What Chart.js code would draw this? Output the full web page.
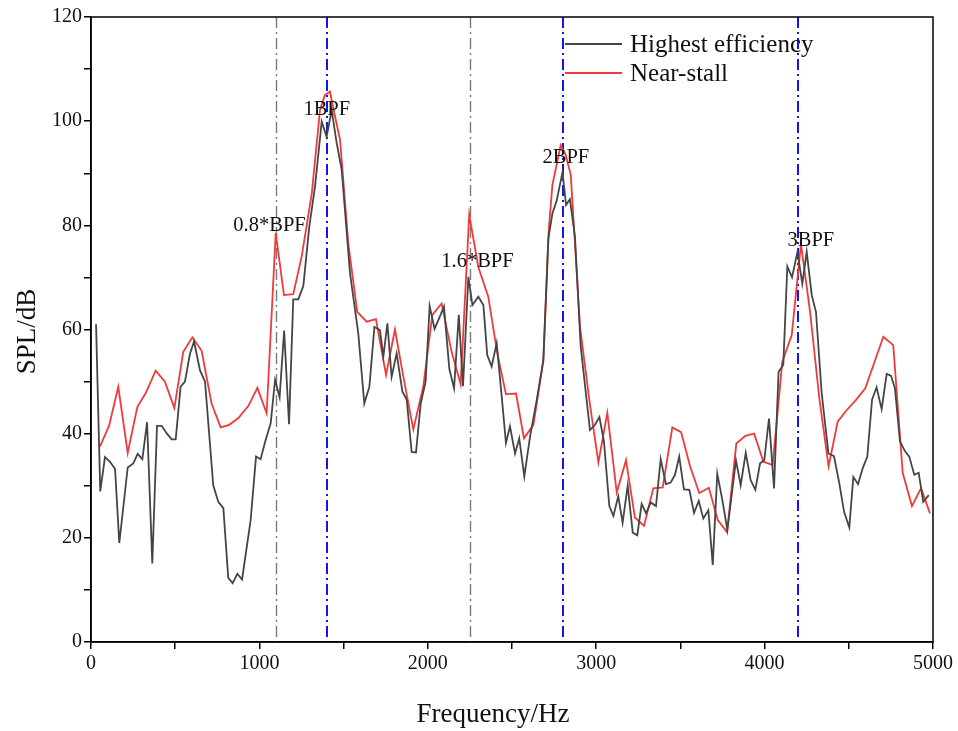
<!DOCTYPE html>
<html>
<head>
<meta charset="utf-8">
<script src="https://cdn.jsdelivr.net/npm/chart.js@4/dist/chart.umd.min.js"></script>
<style>
  html, body { margin: 0; padding: 0; background: #fff; }
  #wrap { width: 958px; height: 731px; }
</style>
</head>
<body>
<div id="wrap"><canvas id="c" width="958" height="731"></canvas></div>
<script>
// Spectrum of the highest-efficiency operating point
const freqHigh = [30,55,83,113,143,168,218,251,277,305,333,364,392,420,449,479,503,532,558,588,612,647,677,726,756,786,815,841,869,897,948,980,1007,1037,1067,1093,1120,1147,1176,1201,1231,1261,1296,1330,1370,1399,1429,1459,1489,1538,1587,1623,1653,1683,1716,1736,1760,1785,1815,1849,1875,1904,1930,1958,1987,2011,2040,2072,2096,2128,2156,2184,2209,2241,2265,2300,2330,2353,2379,2409,2439,2464,2488,2518,2543,2573,2607,2647,2686,2716,2740,2765,2800,2821,2844,2874,2908,2963,2993,3019,3046,3078,3102,3131,3157,3187,3217,3244,3270,3296,3324,3355,3383,3414,3442,3468,3493,3521,3553,3581,3609,3636,3666,3692,3719,3749,3779,3830,3858,3888,3917,3945,3973,3998,4026,4056,4083,4111,4135,4163,4195,4224,4250,4280,4305,4339,4379,4412,4444,4472,4503,4527,4555,4582,4610,4638,4665,4695,4725,4751,4774,4804,4834,4859,4889,4915,4942,4975];
const splHigh = [61,28.9,35.5,34.6,33.2,19,33.5,34.3,36.1,35.1,42.2,15.1,41.5,41.5,40.1,38.9,38.9,49,50,55.4,57.7,52.2,50,30.1,26.9,25.7,12.3,11.3,13.1,12,23.4,35.6,35.1,38.8,42,50.3,47,59.8,41.8,65.8,65.8,68.4,79.7,87.4,99.9,97,102.1,95.8,90.6,70.8,59.3,45.8,49,60.5,59.9,54.8,61.2,50.9,55.4,48.1,46.5,36.5,36.4,45.8,50,64.5,60.1,62.5,64.4,52.4,48.7,62.8,49.1,70.1,64.7,66.3,64.7,55.1,52.9,57.4,47.1,38.2,41.4,36.2,39.1,31.8,39.4,46.5,54.1,77.5,82.3,84.7,90.2,83.9,85,77.8,56.7,40.7,41.7,43.2,38.5,26.1,24.2,28,22.9,30,21,20.5,26.5,24.7,26.8,26.1,35.1,30.3,30.6,32.1,35.6,29.3,29.2,24.8,27.1,23.7,25.3,14.8,32.3,27.3,21.5,34.9,30.1,36.3,31.1,29.2,34.3,34.9,42.9,29.5,51.9,53.2,72.1,70,74.9,68.8,74.9,66.6,63.4,47.8,36.2,35.7,30.4,25,22,31.7,30.3,33.3,35.6,46.5,48.9,44.7,51.5,51.1,48.7,38.5,36.6,35.6,32.1,32.5,26.9,28.2];

// Spectrum near stall
const freqStall = [53,107,162,218,275,325,384,439,495,548,602,657,716,770,821,875,934,988,1043,1097,1146,1201,1251,1311,1360,1389,1419,1443,1479,1528,1581,1637,1692,1752,1805,1855,1914,1973,2027,2082,2140,2195,2246,2300,2359,2413,2464,2524,2571,2627,2686,2718,2740,2765,2789,2819,2849,2904,2959,3013,3066,3122,3177,3230,3284,3339,3395,3452,3504,3557,3612,3669,3722,3777,3832,3886,3938,3993,4048,4105,4161,4216,4270,4325,4380,4434,4487,4543,4598,4652,4705,4764,4820,4875,4929,4982];
const splStall = [37.5,41.5,49,36.3,45.1,47.8,52.1,50,44.9,55.7,58.5,55.9,45.8,41.2,41.7,43,45.3,48.8,43.9,78.5,66.6,66.8,74,86.1,102.2,105,105.7,101.8,96.4,76.5,63.4,61.5,62,51.3,60,50.9,40.8,49,62.8,65,55.9,49.5,82,72,66.3,55.4,47.6,47.7,39.1,41.7,53.9,79,87.8,91.6,95.4,93.5,89.7,60.5,46.5,34.5,44,28.7,34.9,23.9,22.3,29.5,29.7,41.2,40.3,33.8,28.6,29.6,23.4,21.1,38.1,39.6,40,34.6,34,53.8,58.9,76.4,63.4,46.8,33.7,42.3,44.5,46.5,48.7,53.7,58.6,57,32.5,26.1,29.5,24.7];

// Reference frequencies (sub-harmonic guides in grey, blade-passing harmonics in blue)
const guideFreqs = [1100, 2250];
const bpfFreqs = [1400, 2800, 4200];

// Peak labels: text, frequency, level
const peakLabels = ['0.8*BPF', '1BPF', '1.6*BPF', '2BPF', '3BPF'];
const peakFreqs = [1060, 1400, 2295, 2820, 4275];
const peakLevels = [80, 102.3, 73, 93, 77];

const seriesNames = ['Highest efficiency', 'Near-stall'];
const axisTitles = { x: 'Frequency/Hz', y: 'SPL/dB' };

const toPoints = (xs, ys) => xs.map((x, i) => ({ x: x, y: ys[i] }));
const SERIF = '"Liberation Serif", "DejaVu Serif", serif';

const overlay = {
  id: 'overlay',
  beforeDatasetsDraw(chart) {
    const { ctx, chartArea: a, scales: { x } } = chart;
    ctx.save();
    ctx.setLineDash([11, 4, 2, 4]);
    ctx.lineWidth = 1.4;
    ctx.strokeStyle = '#7a7a7a';
    guideFreqs.forEach(f => {
      const px = Math.round(x.getPixelForValue(f)) + 0.5;
      ctx.beginPath(); ctx.moveTo(px, a.top); ctx.lineTo(px, a.bottom); ctx.stroke();
    });
    ctx.lineWidth = 2;
    ctx.strokeStyle = '#1414f0';
    bpfFreqs.forEach(f => {
      const px = Math.round(x.getPixelForValue(f));
      ctx.beginPath(); ctx.moveTo(px, a.top); ctx.lineTo(px, a.bottom); ctx.stroke();
    });
    ctx.restore();
  },
  afterDatasetsDraw(chart) {
    const { ctx, chartArea: a, scales: { x, y } } = chart;
    ctx.save();
    // frame
    ctx.strokeStyle = '#000';
    ctx.lineWidth = 1.5;
    ctx.strokeRect(a.left, a.top, a.right - a.left, a.bottom - a.top);
    // peak labels
    ctx.fillStyle = '#111';
    ctx.font = '20.5px ' + SERIF;
    ctx.textAlign = 'center';
    ctx.textBaseline = 'middle';
    peakLabels.forEach((t, i) => {
      ctx.fillText(t, x.getPixelForValue(peakFreqs[i]), y.getPixelForValue(peakLevels[i]));
    });
    // legend
    const colors = ['#454545', '#f03a3a'];
    const lx = 565, ly = [44, 73];
    ctx.textAlign = 'left';
    ctx.font = '25px ' + SERIF;
    seriesNames.forEach((n, i) => {
      ctx.strokeStyle = colors[i];
      ctx.lineWidth = 1.8;
      ctx.beginPath(); ctx.moveTo(lx, ly[i]); ctx.lineTo(lx + 57, ly[i]); ctx.stroke();
      ctx.fillStyle = '#111';
      ctx.fillText(n, lx + 65, ly[i] + 1);
    });
    // axis titles
    ctx.font = '27px ' + SERIF;
    ctx.textAlign = 'center';
    ctx.fillText(axisTitles.x, 493, 715);
    ctx.translate(28, (a.top + a.bottom) / 2 + 2);
    ctx.rotate(-Math.PI / 2);
    ctx.fillText(axisTitles.y, 0, 0);
    ctx.restore();
  }
};

new Chart(document.getElementById('c'), {
  type: 'line',
  data: {
    datasets: [
      { label: seriesNames[0], data: toPoints(freqHigh, splHigh), borderColor: '#454545', borderWidth: 1.8, pointRadius: 0, tension: 0, fill: false },
      { label: seriesNames[1], data: toPoints(freqStall, splStall), borderColor: '#f03a3a', borderWidth: 1.8, pointRadius: 0, tension: 0, fill: false }
    ]
  },
  options: {
    responsive: false,
    animation: false,
    devicePixelRatio: 1,
    layout: { padding: { left: 0, top: 17, right: 25, bottom: 0 } },
    plugins: { legend: { display: false }, tooltip: { enabled: false } },
    scales: {
      x: {
        type: 'linear', min: 0, max: 5000,
        grid: { drawOnChartArea: false, drawTicks: true, tickLength: 7, color: '#000', lineWidth: 1.5 },
        border: { display: true, color: '#000', width: 1.5 },
        ticks: {
          stepSize: 500, autoSkip: false, maxRotation: 0, padding: 3,
          color: '#111', font: { family: SERIF, size: 20 },
          callback: v => (v % 1000 === 0 ? String(v) : '')
        },
        afterFit: s => { s.height = 89; }
      },
      y: {
        type: 'linear', min: 0, max: 120,
        grid: { drawOnChartArea: false, drawTicks: true, tickLength: 7, color: '#000', lineWidth: 1.5 },
        border: { display: true, color: '#000', width: 1.5 },
        ticks: {
          stepSize: 10, autoSkip: false, padding: 2,
          color: '#111', font: { family: SERIF, size: 20 },
          callback: v => (v % 20 === 0 ? String(v) : '')
        },
        afterFit: s => { s.width = 91; }
      }
    }
  },
  plugins: [overlay]
});
</script>
</body>
</html>
